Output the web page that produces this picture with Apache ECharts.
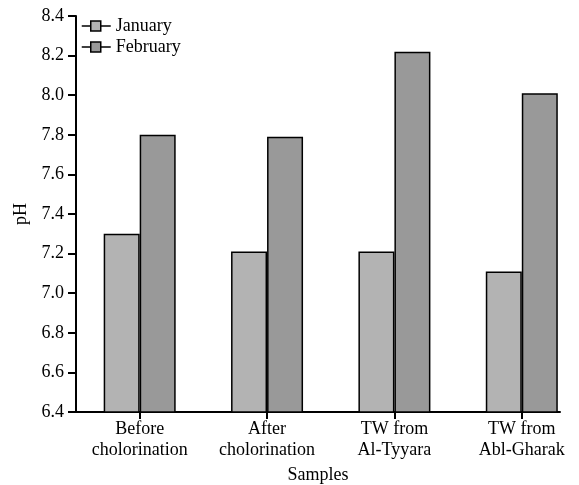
<!DOCTYPE html>
<html>
<head>
<meta charset="utf-8">
<script src="https://cdn.jsdelivr.net/npm/echarts@6/dist/echarts.min.js"></script>
<style>html,body{margin:0;padding:0;background:#fff}#c{width:579px;height:485px}</style>
</head>
<body>
<div id="c"></div>
<script>
const categories = ["Before\ncholorination", "After\ncholorination", "TW from\nAl-Tyyara", "TW from\nAbl-Gharak"];
const january = [7.30, 7.21, 7.21, 7.11];
const february = [7.80, 7.79, 8.22, 8.01];
const yTicks = [6.4, 6.6, 6.8, 7.0, 7.2, 7.4, 7.6, 7.8, 8.0, 8.2, 8.4];

const font = "Liberation Serif";
const fs = 18;
const chart = echarts.init(document.getElementById('c'), null, {renderer: 'canvas'});
const idx = categories.map((_, i) => i);
const legendIcon = 'path://M0,5H9M9,0H19V10H9ZM19,5H29';

chart.setOption({
  animation: false,
  backgroundColor: '#fff',
  grid: {left: 76, right: 19, top: 16, bottom: 73, containLabel: false, outerBoundsMode: 'none'},
  legend: {
    orient: 'vertical', left: 81, top: 17, itemGap: 3, padding: 0,
    itemWidth: 29, itemHeight: 10,
    textStyle: {fontFamily: font, fontSize: fs, color: '#000'},
    data: [
      {name: 'January', icon: legendIcon, itemStyle: {color: '#b3b3b3', borderColor: '#000', borderWidth: 1.5}},
      {name: 'February', icon: legendIcon, itemStyle: {color: '#999999', borderColor: '#000', borderWidth: 1.5}}
    ]
  },
  xAxis: {
    type: 'value', min: -0.5, max: 3.3,
    name: 'Samples', nameLocation: 'middle', nameGap: 42,
    nameTextStyle: {fontFamily: font, fontSize: fs, color: '#000'},
    axisLine: {show: true, onZero: false, lineStyle: {color: '#000', width: 2}},
    axisTick: {show: true, customValues: idx, length: 7, lineStyle: {color: '#000', width: 2}},
    axisLabel: {customValues: idx, formatter: v => categories[Math.round(v)] || '', fontFamily: font, fontSize: fs, color: '#000', lineHeight: 21, margin: 7},
    splitLine: {show: false}
  },
  yAxis: {
    type: 'value', min: yTicks[0], max: yTicks[yTicks.length - 1], interval: 0.2,
    name: 'pH', nameLocation: 'middle', nameGap: 45,
    nameTextStyle: {fontFamily: font, fontSize: fs, color: '#000'},
    axisLine: {show: true, onZero: false, lineStyle: {color: '#000', width: 2}},
    axisTick: {show: true, inside: false, length: 8, lineStyle: {color: '#000', width: 2}},
    axisLabel: {formatter: v => v.toFixed(1), fontFamily: font, fontSize: fs, color: '#000', margin: 12},
    splitLine: {show: false}
  },
  series: [
    {name: 'January', type: 'bar', barWidth: 36, barGap: '0%',
     data: january.map((v, i) => [i, v]),
     itemStyle: {color: '#b3b3b3', borderColor: '#000', borderWidth: 1.5}},
    {name: 'February', type: 'bar', barWidth: 36, barGap: '0%',
     data: february.map((v, i) => [i, v]),
     itemStyle: {color: '#999999', borderColor: '#000', borderWidth: 1.5}}
  ]
});
</script>
</body>
</html>
